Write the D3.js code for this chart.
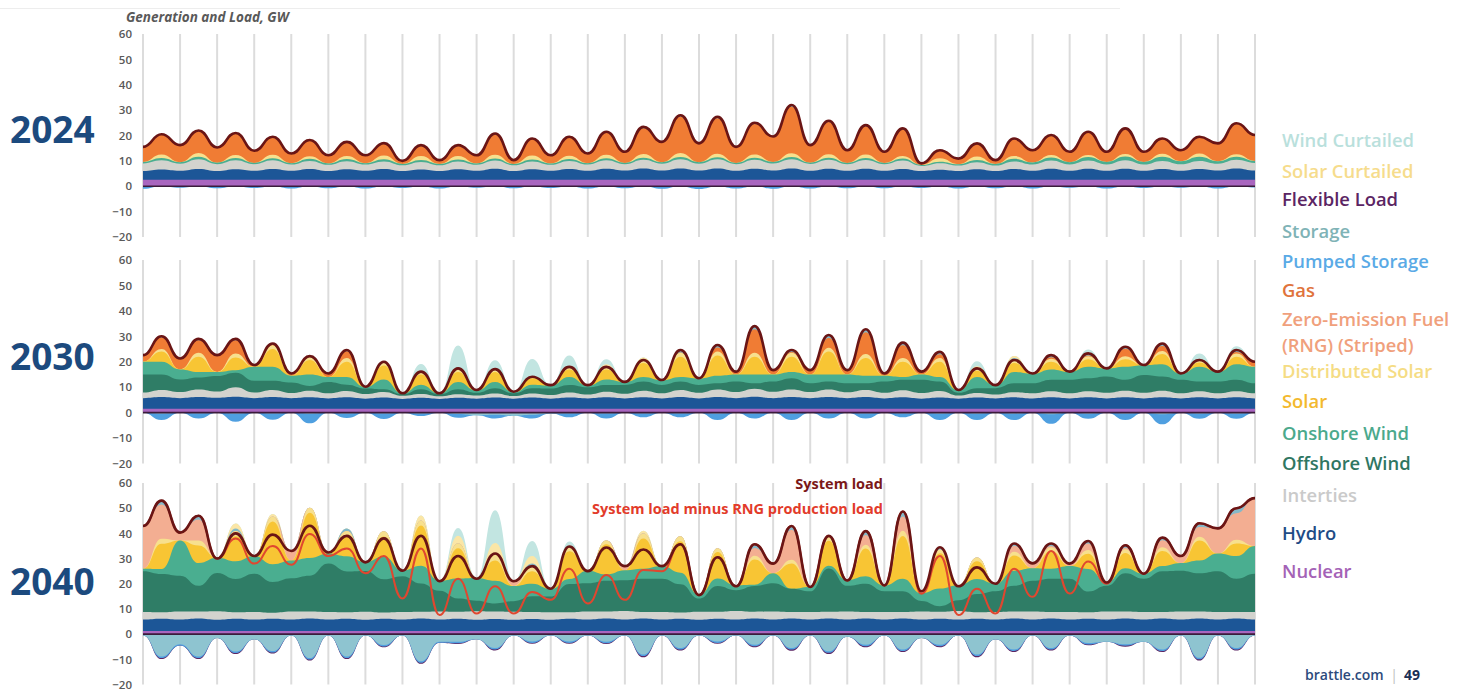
<!DOCTYPE html>
<html><head><meta charset="utf-8">
<script src="https://cdn.jsdelivr.net/npm/d3@7"></script>
<style>body{margin:0;background:#fff;} svg{display:block;font-family:"Open Sans",sans-serif;}</style>
</head><body>
<svg id="chart" width="1471" height="692"></svg>
<script>
// ---------- DATA (GW, two samples per day: night trough, day peak) ----------
const dayGrid = d3.range(61).map(i => i / 2);
const yTicks = [60, 50, 40, 30, 20, 10, 0, -10, -20];
const yearLabels = ["2024", "2030", "2040"];
const legendLabels = ["Wind Curtailed","Solar Curtailed","Flexible Load","Storage","Pumped Storage","Gas","Zero-Emission Fuel","(RNG) (Striped)","Distributed Solar","Solar","Onshore Wind","Offshore Wind","Interties","Hydro","Nuclear"];
const annotationLabels = ["System load", "System load minus RNG production load"];

// 2024
const load2024 = [
15.5,20.5,16.2,22,15.3,21,14,19.5,12.9,18.2,
12.2,17.5,12.2,17,10,16.2,10.3,16.2,12.2,20.8,
10.3,18.8,12.2,19.5,12.9,21.5,13.6,23.4,17.5,28,
16.9,27.4,15.5,25,19.6,32,16.2,25.8,14.2,24.1,
13.6,22.8,9,14.2,10.9,16.9,10.3,18.8,14.2,20.2,
13.6,21.5,13.6,22.8,13.6,18.8,14.2,19.5,16.9,24.8,
20.2];
const nuclear2024 = [
2.6,2.6,2.6,2.6,2.6,2.6,2.6,2.6,2.6,2.6,
2.6,2.6,2.6,2.6,2.6,2.6,2.6,2.6,2.6,2.6,
2.6,2.6,2.6,2.6,2.6,2.6,2.6,2.6,2.6,2.6,
2.6,2.6,2.6,2.6,2.6,2.6,2.6,2.6,2.6,2.6,
2.6,2.6,2.6,2.6,2.6,2.6,2.6,2.6,2.6,2.6,
2.6,2.6,2.6,2.6,2.6,2.6,2.6,2.6,2.6,2.6,
2.6];
const hydro2024 = [
3.4,4.0,3.5,4.2,3.4,4.1,3.5,4.2,3.5,4.2,
3.4,4.1,3.5,4.2,3.4,4.0,3.4,4.1,3.5,4.3,
3.4,4.1,3.5,4.2,3.5,4.3,3.6,4.4,3.6,4.4,
3.6,4.4,3.5,4.3,3.6,4.4,3.5,4.3,3.5,4.3,
3.5,4.2,3.4,3.9,3.4,4.1,3.4,4.2,3.5,4.3,
3.5,4.3,3.5,4.3,3.5,4.2,3.5,4.2,3.6,4.4,
3.6];
const interties2024 = [
3.0,3.6,2.8,3.8,2.7,3.5,2.6,3.4,2.5,3.2,
2.5,3.2,2.5,3.0,2.3,3.0,2.3,3.1,2.4,3.2,
2.3,3.1,2.4,3.2,2.5,3.3,2.5,3.4,2.7,3.6,
2.7,3.6,2.6,3.5,2.8,3.6,2.7,3.5,2.6,3.4,
2.6,3.3,2.0,2.6,2.2,2.8,2.2,3.0,2.5,3.2,
2.5,3.2,2.5,3.3,2.5,3.2,2.6,3.2,2.7,3.4,
3.0];
const onshore2024 = [
0.6,0.9,0.6,1.0,0.6,0.9,0.5,0.8,0.5,0.8,
0.5,0.8,0.5,0.8,0.5,0.7,0.5,0.7,0.5,0.8,
0.5,0.7,0.5,0.7,0.5,0.8,0.5,0.8,0.6,0.9,
0.6,0.8,0.5,0.8,0.6,0.9,0.5,0.8,0.5,0.8,
0.5,0.8,0.4,0.6,0.5,0.8,0.6,1.0,0.8,1.2,
0.9,1.4,1.0,1.5,1.0,1.6,1.2,1.6,1.0,1.2,
0.8];
const distSolar2024 = [
0,1.4,0,1.5,0,1.2,0,1.4,0,1.0,
0,1.2,0,1.5,0,1.6,0,1.4,0,1.5,
0,1.6,0,1.3,0,1.4,0,1.5,0,1.6,
0,1.4,0,1.3,0,1.5,0,1.4,0,1.4,
0,1.0,0,1.3,0,1.4,0,1.1,0,1.0,
0,0.8,0,1.0,0,1.2,0,1.3,0,1.0,
0];
const storageUp2024 = [
0,0.2,0,0.3,0,0.2,0,0.3,0,0.2,
0,0.2,0,0.2,0,0.2,0,0.2,0,0.3,
0,0.2,0,0.3,0,0.4,0,0.5,0,0.6,
0,0.6,0,0.5,0,0.7,0,0.5,0,0.5,
0,0.4,0,0.2,0,0.2,0,0.3,0,0.3,
0,0.3,0,0.3,0,0.2,0,0.2,0,0.3,
0];
const pumpedDown2024 = [
-1.0,0,-0.6,0,-0.8,0,-0.7,0,-0.9,0,
-0.8,0,-0.9,0,-0.7,0,-0.9,0,-0.6,0,
-0.8,0,-0.7,0,-0.9,0,-0.8,0,-1.0,0,
-1.1,0,-0.9,0,-1.0,0,-0.9,0,-0.8,0,
-0.8,0,-0.7,0,-0.9,0,-0.8,0,-0.9,0,
-0.6,0,-0.9,0,-0.7,0,-0.6,0,-0.9,0,
-0.5];

// 2030
const load2030 = [
22.6,30,21.3,29,22.6,29,18.7,27.2,15.4,22.2,
15.4,24.6,10.2,20,7.6,16.1,7.6,17.4,8.9,17.1,
8.2,14.1,10.8,18,10.8,18,12.1,20.7,12.8,24.6,
13.5,26.6,16.1,34,16.7,24.6,16.7,30.5,16.7,32.8,
15.4,27.5,16.1,23.9,8.9,17.4,10.8,20.7,15.4,22.6,
16.1,23.3,17.4,25.9,18.7,27.2,15.4,20.7,16.1,24.6,
20];
const nuclear2030 = [
1.5,1.5,1.5,1.5,1.5,1.5,1.5,1.5,1.5,1.5,
1.5,1.5,1.5,1.5,1.5,1.5,1.5,1.5,1.5,1.5,
1.5,1.5,1.5,1.5,1.5,1.5,1.5,1.5,1.5,1.5,
1.5,1.5,1.5,1.5,1.5,1.5,1.5,1.5,1.5,1.5,
1.5,1.5,1.5,1.5,1.5,1.5,1.5,1.5,1.5,1.5,
1.5,1.5,1.5,1.5,1.5,1.5,1.5,1.5,1.5,1.5,
1.5];
const hydro2030 = [
4.2,4.6,4.2,4.6,4.3,4.7,4.2,4.6,4.2,4.5,
4.1,4.5,4.0,4.4,3.9,4.3,3.9,4.3,4.0,4.4,
4.0,4.4,4.0,4.4,4.1,4.5,4.1,4.5,4.1,4.6,
4.1,4.6,4.2,4.7,4.2,4.6,4.2,4.6,4.2,4.6,
4.1,4.5,4.0,4.4,4.0,4.4,4.1,4.5,4.1,4.5,
4.1,4.5,4.1,4.5,4.1,4.5,4.1,4.5,4.1,4.5,
4.1];
const interties2030 = [
2.2,2.8,2.4,3.0,2.5,3.8,2.2,2.8,2.0,2.6,
2.0,2.5,1.8,2.2,1.2,1.5,1.0,1.4,1.2,1.6,
1.0,1.6,1.4,2.0,1.5,2.2,1.8,2.6,2.0,2.8,
2.2,3.0,2.4,3.2,2.5,3.0,2.4,3.0,2.3,2.8,
2.2,2.8,2.2,2.6,1.2,1.8,1.5,2.0,2.0,2.4,
2.0,2.4,2.2,2.6,2.2,2.6,2.0,2.4,2.0,2.4,
2.0];
const offshore2030 = [
7.1,6.1,4.9,4.7,6.1,5.7,4.6,3.6,4.1,1.9,
4.4,2.5,2.2,1.1,0.6,1.9,0.8,2.0,1.1,2.1,
1.1,2.1,2.6,3.0,2.9,2.7,3.5,3.6,3.3,3.3,
3.1,2.4,4.1,2.1,4.0,4.4,3.4,3.1,3.5,2.6,
4.4,4.1,5.2,3.7,1.1,1.9,2.5,3.5,3.9,4.5,
5.3,5.1,6.4,4.3,7.0,5.6,5.3,3.8,4.6,4.5,
3.9];
const onshore2030 = [
5,5,4,2.2,1.6,1.0,5.5,5.5,2.7,4.5,
2,3,0.5,3.8,0.3,1.8,0.3,2.8,0.8,2.4,
0.4,1.4,1.1,3.1,0.6,2.1,1.1,1.8,1.8,1.8,
2.5,3.0,2.8,3.5,2.8,2.5,3.5,2.8,3.5,3.0,
2.3,1.1,2.1,1.8,1.0,4.4,1.1,4.5,3.8,4.1,
3.1,4.5,3.1,5.1,3.8,4.8,2.4,5.8,3.8,6.1,
6.5];
const solar2030 = [
0,4,0,6,0,5,0,7,0,5.7,
0,6,0,5.5,0,4,0,4,0,4,
0,2.5,0,3,0,4,0,5.5,0,8,
0,8,0,7,0,6,0,9,0,7,
0,6,0,6,0,2.5,0,3.5,0,3,
0,3,0,3,0,4,0,1.7,0,3,
0];
const distSolar2030 = [
0,1.0,0,1.5,0,1.5,0,1.5,0,1.5,
0,1.5,0,1.5,0,1.0,0,1.2,0,1.0,
0,0.6,0,1.0,0,1.0,0,1.2,0,1.5,
0,1.5,0,1.5,0,1.5,0,1.5,0,1.5,
0,1.5,0,1.5,0,0.9,0,1.2,0,1.2,
0,1.2,0,1.2,0,1.2,0,1.0,0,1.2,
0];
const storageUp2030 = [
0,0.5,0,0.5,0,0.5,0,0.5,0,0,
0,0.5,0,0,0,0,0,0,0,0,
0,0,0,0,0,0,0,0,0,1.0,
0,1.0,0,1.2,0,0.8,0,1.2,0,1.2,
0,1.0,0,1.0,0,0,0,0.8,0,0.8,
0,0.8,0,0.8,0,1.0,0,0.5,0,0.8,
0];
const solarCurt2030 = [
0,0,0,0,0,0,0,0,0,0,
0,0,0,0,0,0,0,0,0,0,
0,0,0,0,0,1,0,1,0,0,
0,0,0,0,0,0,0,0,0,0,
0,0,0,0,0,0.8,0,0.8,0,0,
0,0,0,0,0,0,0,0,0,0,
0];
const windCurt2030 = [
0,0,0,0,0,0,0,0,0,0,
0,0,0,0,0,3,0,9,0,3.5,
0,7,0,4.5,0,2,0,0,0,0,
0,0,0,0,0,0,0,0,0,0,
0,0,0,0,0,2,0,0,0,0,
0,1.5,0,0,0,0,0,2,0,1.5,
0];
const storageDown2030 = [
0,-0.4,0,-0.3,0,-0.4,0,-0.3,0,-0.4,
0,-0.3,0,-0.3,0,-0.3,0,-0.5,-1.0,-0.8,
-1.2,-0.8,-0.3,-0.3,0,-0.3,0,-0.3,0,-0.3,
0,-0.4,0,-0.3,0,-0.4,0,-0.3,0,-0.3,
0,-0.3,0,-0.4,0,-0.4,0,-0.4,0,-0.6,
0,-0.4,0,-0.4,0,-0.6,0,-0.4,0,-0.4,
0];
const pumpedDown2030 = [
0,-2.5,0,-2,0,-3.2,0,-2.5,0,-3.8,
0,-1.8,0,-2.2,0,-1,0,-1.5,0,-1.5,
0,-1.5,0,-1.5,0,-2,0,-1.5,0,-1.5,
0,-2.5,0,-2,0,-2.5,0,-2,0,-2,
0,-1.5,0,-2.5,0,-2.5,0,-2.5,0,-3.8,
0,-2,0,-2.5,0,-4,0,-2,0,-2,
0];

// 2040
const load2040 = [
42.9,53,40.3,47,30,40,31,39.5,33,43,
32.4,39,28.5,38,25.2,39,21,31,22,32,
21,27,18,34.8,25,34.4,27,33.6,27,35.7,
15.5,30.5,19,35.7,28,42.9,18.7,39,21.3,40.9,
19.3,48.7,17,34.5,19,26.5,20,36,28.1,36,
28,37,20.5,35.3,24,38.3,31,44,42,50,
54];
const loadMinusRng2040 = [
42.9,53,40.3,47,30,38,28,35,27.5,39.8,
31,34,24.2,31,14.1,34,7.6,22,8.2,19,
8.2,16.7,13.6,26,12.2,23.5,13.6,25.5,25,35.7,
15.5,30.5,19,35.7,28,42.9,18.7,39,21.3,40.9,
19.3,48.7,16,31,7.6,18,8.2,26,14.8,33,
16.1,28.8,20,35.3,24,38.3,31,44,42,50,
54];
const nuclear2040 = [
1.2,1.2,1.2,1.2,1.2,1.2,1.2,1.2,1.2,1.2,
1.2,1.2,1.2,1.2,1.2,1.2,1.2,1.2,1.2,1.2,
1.2,1.2,1.2,1.2,1.2,1.2,1.2,1.2,1.2,1.2,
1.2,1.2,1.2,1.2,1.2,1.2,1.2,1.2,1.2,1.2,
1.2,1.2,1.2,1.2,1.2,1.2,1.2,1.2,1.2,1.2,
1.2,1.2,1.2,1.2,1.2,1.2,1.2,1.2,1.2,1.2,
1.2];
const hydro2040 = [
4.6,4.9,4.6,5.0,4.5,4.9,4.6,4.9,4.6,5.0,
4.6,4.9,4.5,4.9,4.6,5.0,4.6,4.9,4.5,4.8,
4.5,4.8,4.5,4.9,4.6,5.0,4.6,5.0,4.6,4.9,
4.5,4.9,4.6,5.0,4.6,5.0,4.6,5.0,4.6,5.0,
4.6,5.0,4.6,4.9,4.6,4.9,4.6,5.0,4.6,5.0,
4.6,4.9,4.6,5.0,4.6,5.0,4.6,5.0,4.6,5.0,
4.6];
const interties2040 = [
3.0,2.6,3.2,2.8,3.4,2.6,3.0,2.4,3.2,2.8,
3.0,2.6,3.2,2.5,3.0,2.7,3.2,2.8,3.4,3.0,
3.2,2.8,3.0,2.6,3.2,2.8,3.4,2.6,3.0,2.5,
3.2,2.8,3.4,2.7,3.2,2.6,3.0,2.7,3.2,2.6,
3.0,2.6,3.2,2.8,3.4,2.6,3.0,2.8,3.2,2.6,
3.0,2.6,3.2,2.8,3.0,2.6,3.2,2.8,3.0,2.6,
3.0];
const offshore2040 = [
16.2,15.2,14.2,10.2,15.2,13.2,15.2,12.2,13.2,14.2,
19.2,16.2,16.2,13.2,14.2,11.2,8.2,5.2,4.2,3.2,
4.2,6.2,6.2,11.2,11.2,12.2,12.2,13.2,13.2,11.2,
5.2,10.2,8.2,10.2,11.2,9.2,8.2,17.2,10.2,11.2,
8.2,8.2,4.2,2.2,4.2,7.2,8.2,10.2,12.2,13.2,
13.2,8.2,10.2,15.2,13.2,16.2,16.2,15.2,16.2,13.2,
15.2];
const onshore2040 = [
1,2,14,9,6,7,7,7,7,7,
4,6,3.5,9,2.2,7,4,8,9,9,
6,5,3,2,5,2.5,4,4,5,4.6,
1.5,3,2,0.5,4,0,1.7,1,2.3,3,
2.3,5,3,7,6,6,3,6,5,4,
5,9,1.5,2,2,2,3,5,7,9,
11];
const solar2040 = [
0,10,0,7,0,10,0,17,0,18,
0,8,0,8,0,16,0,12,0,8,
0,5,0,11,0,12,0,12,0,12.5,
0,10.5,0,10,0,10,0,10,0,11,
0,17,0,14,0,7,0,6,0,7,
0,6,0,6,0,6,0,8,0,5,
0];
const distSolar2040 = [
0,2,0,2,0,2,0,2,0,2,
0,2,0,2,0,2,0,2,0,3,
0,2,0,1.5,0,1.5,0,2,0,2,
0,1.5,0,1.5,0,1.5,0,2,0,1.5,
0,2,0,1.5,0,1.5,0,1.5,0,1.5,
0,1.5,0,1.5,0,1.5,0,1.5,0,1.5,
0];
const storageUp2040 = [
0,1.5,0,1.5,0,1,0,0,0,0,
0,1,0,0,0,0,0,0,0,0,
0,1,0,0,0,0,0,0,0,0,
0,0,0,1.5,0,1.5,0,0,0,1.5,
0,2,0,1,0,0,0,1,0,1,
0,1,0,1,0,1,0,1.5,0,2,
0];
const solarCurt2040 = [
0,0,0,0,0,2,0,1,0,0,
0,0,0,0,0,2,0,3,0,4,
0,3,0,0,0,0,0,1,0,0,
0,0,0,0,0,0,0,0,0,0,
0,0,0,0,0,0,0,0,0,0,
0,0,0,0,0,0,0,0,0,0,
0];
const windCurt2040 = [
0,0,0,0,0,0,0,0,0,0,
0,0,0,0,0,0,0,3,0,13,
0,6,0,2,0,0,0,0,0,0,
0,0,0,0,0,0,0,0,0,0,
0,0,0,0,0,0,0,0,0,0,
0,0,0,0,0,0,0,0,0,0,
0];
const storageDown2040 = [
-0.5,-8.9,-4,-8.9,-1.5,-6.9,-2,-6.7,-0.5,-9.5,
-0.5,-8.9,-0.5,-4.3,-0.5,-10.8,-3,-3,-2,-5.5,
-0.5,-2.9,-0.5,-2.9,-0.5,-3,-0.5,-8.1,-0.5,-5.5,
-0.5,-2.9,-0.5,-4.2,-0.5,-5.5,-0.5,-6.8,-1,-4.2,
-0.5,-6.1,-1.5,-4.2,-0.5,-8.1,-2,-6.1,-0.5,-5.5,
-0.5,-3.5,-3,-4,-3,-6.1,-0.5,-9.4,-0.5,-5.5,
-0.5];
const pumpedDown2040 = [
0,-0.6,-0.5,-0.6,0,-0.6,0,-0.6,0,-0.6,
0,-0.6,0,-0.6,0,-0.6,-0.4,-0.6,0,-0.6,
0,-0.6,0,-0.6,0,-0.6,0,-0.6,0,-0.6,
0,-0.6,0,-0.6,0,-0.6,0,-0.6,0,-0.6,
0,-0.6,0,-0.6,0,-0.6,0,-0.6,0,-0.6,
0,-0.6,0,-0.6,0,-0.6,0,-0.6,0,-0.6,
0];
const flexDown2040 = [
0,-0.4,0,-0.4,0,-0.4,0,-0.4,0,-0.4,
0,-0.4,0,-0.3,0,-0.4,0,-0.3,0,-0.4,
0,-0.3,0,-0.3,0,-0.3,0,-0.5,0,-0.4,
0,-0.3,0,-0.4,0,-0.5,0,-0.5,0,-0.4,
0,-0.4,0,-0.4,0,-0.5,0,-0.4,0,-0.4,
0,-0.3,0,-0.4,0,-0.4,0,-0.5,0,-0.4,
0];

// ---------- CONFIG ----------
const panels = [
  { year: yearLabels[0], load: load2024, filler: "gas",
    series: { nuclear: nuclear2024, hydro: hydro2024, interties: interties2024, onshore: onshore2024,
              distSolar: distSolar2024, storageUp: storageUp2024, pumpedDown: pumpedDown2024 } },
  { year: yearLabels[1], load: load2030, filler: "gas",
    series: { nuclear: nuclear2030, hydro: hydro2030, interties: interties2030, offshore: offshore2030,
              onshore: onshore2030, solar: solar2030, distSolar: distSolar2030, storageUp: storageUp2030,
              solarCurt: solarCurt2030, windCurt: windCurt2030, storageDown: storageDown2030, pumpedDown: pumpedDown2030 } },
  { year: yearLabels[2], load: load2040, filler: "rng", rngLine: loadMinusRng2040,
    series: { nuclear: nuclear2040, hydro: hydro2040, interties: interties2040, offshore: offshore2040,
              onshore: onshore2040, solar: solar2040, distSolar: distSolar2040, storageUp: storageUp2040,
              solarCurt: solarCurt2040, windCurt: windCurt2040, storageDown: storageDown2040,
              pumpedDown: pumpedDown2040, flexDown: flexDown2040 } }
];

const posKeys = ["nuclear","hydro","interties","offshore","onshore","solar","distSolar","rng","gas","storageUp","solarCurt","windCurt"];
const negKeys = ["storageDown","pumpedDown","flexDown"];
const belowFiller = ["nuclear","hydro","interties","offshore","onshore","solar","distSolar","storageUp"];
const areaColor = {
  nuclear:"#a966bf", hydro:"#1c5697", interties:"#d3d3ce", offshore:"#2f7d66", onshore:"#4aae90",
  solar:"#f8c534", distSolar:"#f7e08e", rng:"#f3ae92", gas:"#f07c34", storageUp:"#84b9c9",
  solarCurt:"#fbe6a6", windCurt:"#c2e5e1", storageDown:"#8ec4d0", pumpedDown:"#4f9fe0", flexDown:"#5b2563"
};
const legendColor = ["#b9e0dc","#f6dc8c","#5b2563","#7fb3b6","#5aaae6","#e0733c","#f0a07c","#f0a07c","#f5dc84","#f3b92e","#4ba98c","#2f7662","#cacaca","#1f4c86","#a462b6"];
const legendY = [147,178,206,238,268,297,326,351.5,378,408,440,470,502,540,578];

// ---------- DRAW ----------
const svg = d3.select("#chart");
const x = d3.scaleLinear().domain([0, 30]).range([143, 1255]);
const panelRanges = [[237, 34], [463.5, 260], [684.5, 483]];
const yearBaselines = [143, 370, 595];

svg.append("line").attr("x1", 0).attr("x2", 1120).attr("y1", 8.5).attr("y2", 8.5)
  .attr("stroke", "#ededed").attr("stroke-width", 1);

svg.append("text").attr("x", 126).attr("y", 22)
  .attr("font-style", "italic").attr("font-weight", 700).attr("font-size", 13.5)
  .attr("fill", "#595959").text("Generation and Load, GW");

panels.forEach((p, pi) => {
  const y = d3.scaleLinear().domain([-20, 60]).range(panelRanges[pi]);
  const g = svg.append("g");

  // day gridlines
  g.selectAll("line.grid").data(d3.range(0, 31)).join("line").attr("class", "grid")
    .attr("x1", d => x(d)).attr("x2", d => x(d))
    .attr("y1", y(60)).attr("y2", y(-20))
    .attr("stroke", "#dcdcdc").attr("stroke-width", 2);

  // y axis
  const ga = g.append("g").attr("transform", "translate(132,0)")
    .call(d3.axisLeft(y).tickValues(yTicks).tickSize(0).tickPadding(0));
  ga.select(".domain").remove();
  ga.selectAll("text").attr("font-family", "'Open Sans', sans-serif").attr("font-size", 11.5)
    .attr("font-weight", 600).attr("fill", "#595959");

  // year label
  svg.append("text").attr("x", 10).attr("y", yearBaselines[pi])
    .attr("font-weight", 700).attr("font-size", 37).attr("fill", "#1c4a7e").text(p.year);

  // rows
  const rows = dayGrid.map((t, i) => {
    const r = { t };
    posKeys.concat(negKeys).forEach(k => { r[k] = p.series[k] ? p.series[k][i] : 0; });
    const below = belowFiller.reduce((s, k) => s + r[k], 0);
    r[p.filler] = Math.max(0, p.load[i] - below);
    return r;
  });
  const usedPos = posKeys.filter(k => rows.some(r => r[k] !== 0));
  const usedNeg = negKeys.filter(k => rows.some(r => r[k] !== 0));
  const pos = d3.stack().keys(usedPos)(rows);
  const neg = d3.stack().keys(usedNeg)(rows);

  const area = d3.area().x(d => x(d.data.t)).y0(y(0)).y1(d => y(d[1])).curve(d3.curveBumpX);

  g.selectAll("path.pos").data(pos.slice().reverse()).join("path").attr("class", "pos")
    .attr("d", area).attr("fill", s => areaColor[s.key]);
  g.selectAll("path.neg").data(neg.slice().reverse()).join("path").attr("class", "neg")
    .attr("d", area).attr("fill", s => areaColor[s.key]);

  // zero axis line
  g.append("line").attr("x1", x(0)).attr("x2", x(30)).attr("y1", y(0)).attr("y2", y(0))
    .attr("stroke", "#3b1c3b").attr("stroke-width", 1.6);

  const line = d3.line().x((d, i) => x(dayGrid[i])).y(d => y(d)).curve(d3.curveBumpX);
  if (p.rngLine) {
    g.append("path").attr("d", line(p.rngLine)).attr("fill", "none")
      .attr("stroke", "#e0472f").attr("stroke-width", 2);
  }
  g.append("path").attr("d", line(p.load)).attr("fill", "none")
    .attr("stroke", "#6a1515").attr("stroke-width", 2.6).attr("stroke-linejoin", "round");
});

// annotations
svg.append("text").attr("x", 883).attr("y", 489).attr("text-anchor", "end")
  .attr("font-weight", 700).attr("font-size", 14.5).attr("fill", "#7b1818").text(annotationLabels[0]);
svg.append("text").attr("x", 883).attr("y", 514).attr("text-anchor", "end")
  .attr("font-weight", 700).attr("font-size", 14.5).attr("fill", "#e23b2a").text(annotationLabels[1]);

// legend
svg.append("g").selectAll("text").data(legendLabels).join("text")
  .attr("x", 1282).attr("y", (d, i) => legendY[i])
  .attr("font-weight", 600).attr("font-size", 18.4)
  .attr("fill", (d, i) => legendColor[i]).text(d => d);

// footer
const ft = svg.append("text").attr("x", 1305).attr("y", 680).attr("font-size", 14);
ft.append("tspan").attr("font-weight", 600).attr("fill", "#2c4a7c").text("brattle.com ");
ft.append("tspan").attr("fill", "#c0c0c0").attr("dx", 3).text("|");
ft.append("tspan").attr("font-weight", 700).attr("fill", "#1b2f55").attr("dx", 6).text("49");
</script>
</body></html>
